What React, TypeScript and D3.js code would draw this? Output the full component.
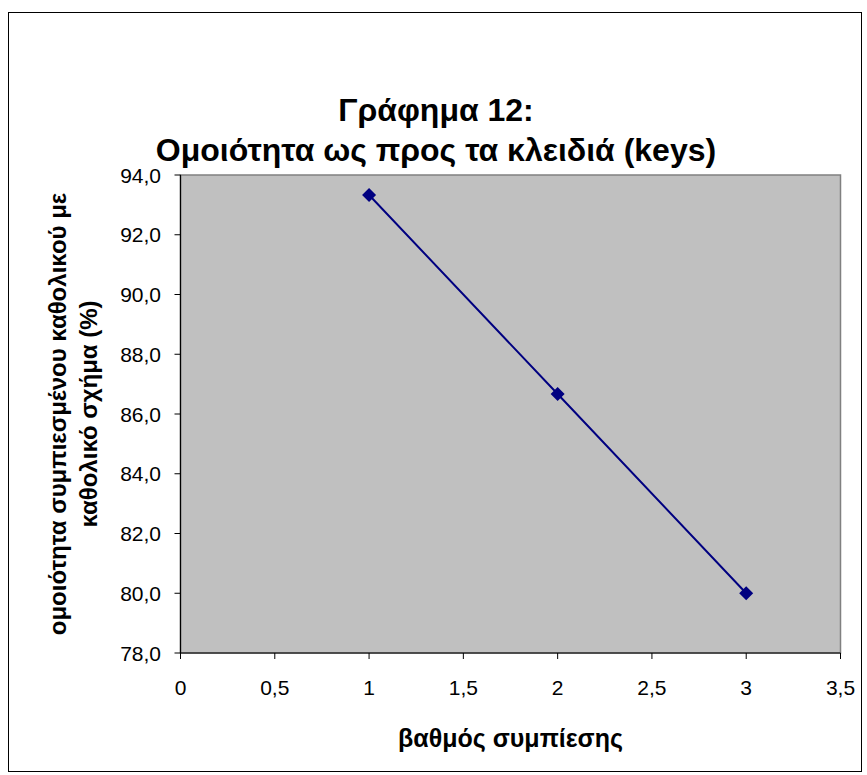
import React from "react";
import * as d3 from "d3";

const xValues = [1, 2, 3];
const yValues = [93.33, 86.67, 80.0];
const xTicks = [0, 0.5, 1, 1.5, 2, 2.5, 3, 3.5];
const yTicks = [78, 80, 82, 84, 86, 88, 90, 92, 94];
const titleLines = ["Γράφημα 12:", "Ομοιότητα ως προς τα κλειδιά (keys)"];
const xTitle = "βαθμός συμπίεσης";
const yTitleLines = ["ομοιότητα συμπιεσμένου καθολικού με", "καθολικό σχήμα (%)"];

const W = 867;
const H = 775;
const plot = { left: 180.5, top: 175, right: 840.5, bottom: 653 };
const font = "'Liberation Sans', Arial, sans-serif";

const fmtY = (v: number) => v.toFixed(1).replace(".", ",");
const fmtX = (v: number) => String(v).replace(".", ",");

export default function App() {
  const x = d3.scaleLinear().domain([0, 3.5]).range([plot.left, plot.right]);
  const y = d3.scaleLinear().domain([78, 94]).range([plot.bottom, plot.top]);
  const pts = xValues.map((v, i) => [x(v), y(yValues[i])] as [number, number]);
  const line = d3.line()(pts) || "";
  const cy = (plot.top + plot.bottom) / 2;
  const cx = (plot.left + plot.right) / 2;
  const d = 7;
  return (
    <svg width={W} height={H} style={{ position: "absolute", left: 0, top: 0, background: "#fff" }} fontFamily={font}>
      <rect x={8.5} y={12.5} width={853} height={759} fill="#fff" stroke="#000" strokeWidth={1} />
      {titleLines.map((t, i) => (
        <text key={i} x={436} y={121 + i * 40} textAnchor="middle" fontSize={32} fontWeight="bold" fill="#000">
          {t}
        </text>
      ))}
      <rect x={plot.left} y={plot.top} width={plot.right - plot.left} height={plot.bottom - plot.top} fill="#C0C0C0" stroke="#808080" strokeWidth={1.5} />
      <line x1={plot.left} x2={plot.left} y1={plot.top} y2={plot.bottom} stroke="#000" strokeWidth={1.2} />
      <line x1={plot.left} x2={plot.right} y1={plot.bottom} y2={plot.bottom} stroke="#000" strokeWidth={1.2} />
      {yTicks.map((t) => (
        <g key={"y" + t}>
          <line x1={plot.left - 6} x2={plot.left} y1={y(t)} y2={y(t)} stroke="#000" />
          <text x={161} y={y(t)} dy="0.36em" textAnchor="end" fontSize={21} fill="#000">
            {fmtY(t)}
          </text>
        </g>
      ))}
      {xTicks.map((t) => (
        <g key={"x" + t}>
          <line x1={x(t)} x2={x(t)} y1={plot.bottom} y2={plot.bottom + 6} stroke="#000" />
          <text x={x(t)} y={695} textAnchor="middle" fontSize={21} fill="#000">
            {fmtX(t)}
          </text>
        </g>
      ))}
      <text x={cx} y={747} textAnchor="middle" fontSize={25} fontWeight="bold" fill="#000">
        {xTitle}
      </text>
      {yTitleLines.map((t, i) => (
        <text key={i} transform={`translate(${66 + i * 31},${cy}) rotate(-90)`} textAnchor="middle" fontSize={24} fontWeight="bold" fill="#000">
          {t}
        </text>
      ))}
      <path d={line} fill="none" stroke="#000080" strokeWidth={2} />
      {pts.map(([px, py], i) => (
        <path key={i} d={`M${px},${py - d}L${px + d},${py}L${px},${py + d}L${px - d},${py}Z`} fill="#000080" />
      ))}
    </svg>
  );
}
